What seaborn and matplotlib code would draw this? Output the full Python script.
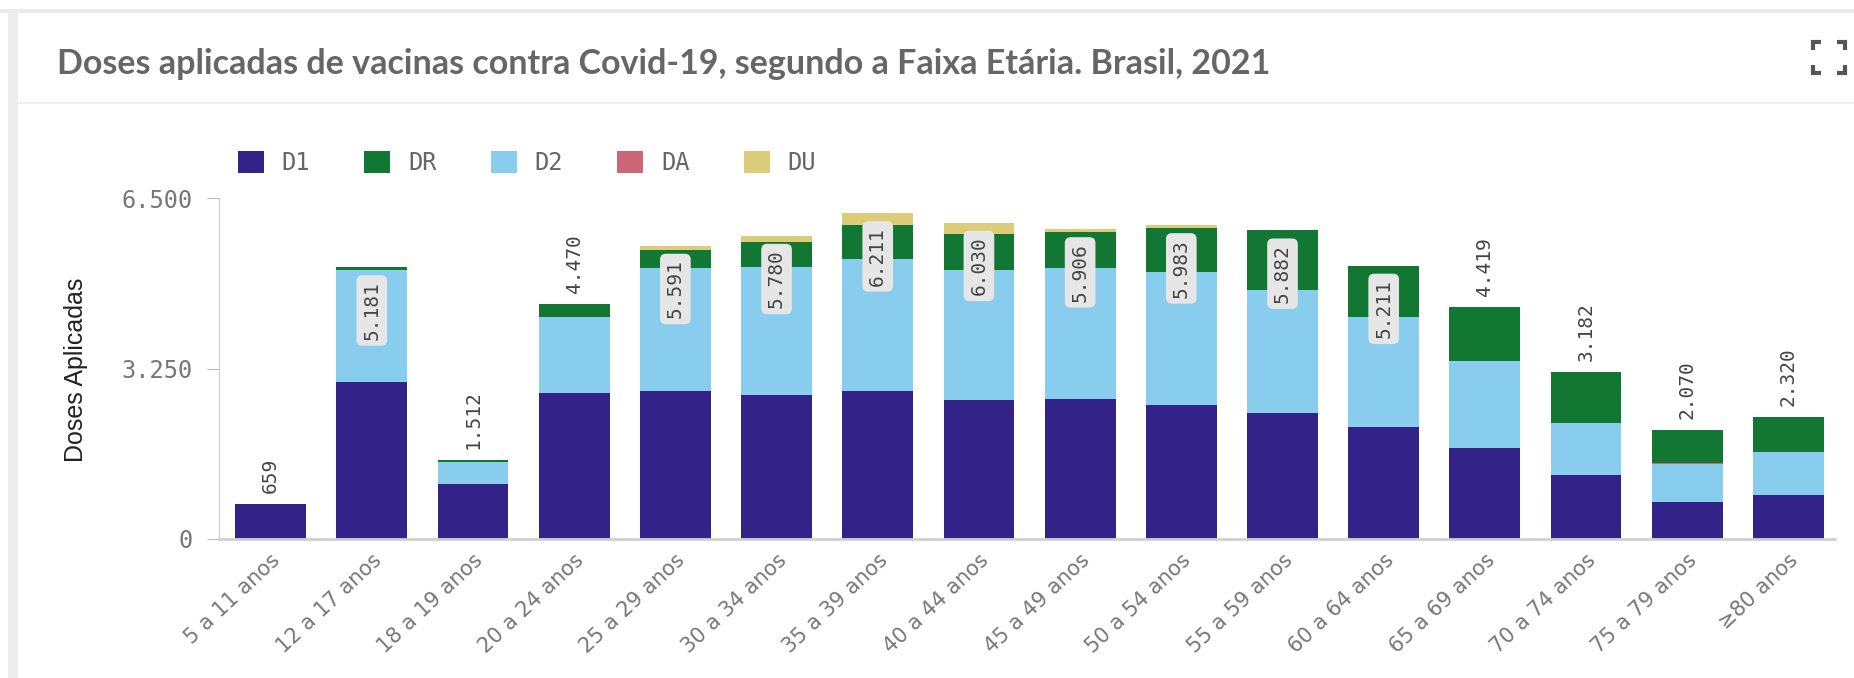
import numpy as np
import pandas as pd
import seaborn as sns
import matplotlib.pyplot as plt
from matplotlib.patches import Rectangle, Patch
from matplotlib.lines import Line2D

faixas = ["5 a 11 anos", "12 a 17 anos", "18 a 19 anos", "20 a 24 anos",
          "25 a 29 anos", "30 a 34 anos", "35 a 39 anos", "40 a 44 anos",
          "45 a 49 anos", "50 a 54 anos", "55 a 59 anos", "60 a 64 anos",
          "65 a 69 anos", "70 a 74 anos", "75 a 79 anos", "≥80 anos"]

# doses aplicadas (mil)
d1 = [659, 2993, 1048, 2776, 2821, 2751, 2821, 2649, 2674, 2560, 2401, 2135, 1740, 1212, 711, 839]
d2 = [0, 2140, 420, 1456, 2345, 2434, 2516, 2471, 2492, 2522, 2351, 2097, 1653, 999, 724, 819]
da = [0, 0, 0, 0, 0, 0, 0, 0, 0, 0, 0, 0, 5, 8, 6, 8]
dr = [0, 48, 44, 238, 349, 469, 654, 686, 678, 846, 1130, 979, 1021, 963, 629, 654]
du = [0, 0, 0, 0, 76, 126, 220, 224, 62, 55, 0, 0, 0, 0, 0, 0]

yticks = [0, 3250, 6500]
ytick_labels = ["0", "3.250", "6.500"]

cores = {"D1": "#332288", "DR": "#117733", "D2": "#88CCEE", "DA": "#CC6677", "DU": "#DDCC77"}

df = pd.DataFrame({"faixa": faixas, "D1": d1, "D2": d2, "DA": da, "DR": dr, "DU": du})
stack_order = ["D1", "D2", "DA", "DR", "DU"]
cum = df[stack_order].cumsum(axis=1)
df["total"] = cum["DU"]

W, H = 1854, 678
fig = plt.figure(figsize=(W / 100, H / 100), dpi=100)
fig.patch.set_facecolor("white")

# card frame
fig.patches.append(Rectangle((0, 1 - 13 / H), 1, 4 / H, transform=fig.transFigure,
                             facecolor="#ebebeb", edgecolor="none"))
fig.patches.append(Rectangle((8 / W, 0), 10 / W, 1 - 9 / H, transform=fig.transFigure,
                             facecolor="#ececec", edgecolor="none"))
fig.add_artist(Line2D([18 / W, 1], [1 - 103 / H] * 2, color="#f0f0f0", lw=1.5))

# expand icon
x0, x1, y0, y1, a = 1813, 1845, 42, 73, 8
for cx, cy, sx, sy in [(x0, y0, 1, 1), (x1, y0, -1, 1), (x0, y1, 1, -1), (x1, y1, -1, -1)]:
    xs = [cx + sx * a, cx, cx]
    ys = [cy, cy, cy + sy * a]
    fig.add_artist(Line2D([v / W for v in xs], [1 - v / H for v in ys],
                          color="#555555", lw=3, solid_capstyle="butt", solid_joinstyle="miter"))

fig.text(57 / W, 1 - 74 / H, "Doses aplicadas de vacinas contra Covid-19, segundo a Faixa Etária. Brasil, 2021",
         fontsize=24.5, fontweight="bold", color="#666666", family=["Lato", "DejaVu Sans"], va="baseline")

ax = fig.add_axes([219 / W, 139 / H, (1835 - 219) / W, (539 - 198) / H])

for layer in reversed(stack_order):
    sns.barplot(x=df["faixa"], y=cum[layer], color=cores[layer], width=0.7,
                saturation=1, linewidth=0, ax=ax)

ax.set_ylim(0, 6500)
ax.set_xlim(-0.51, 15.46)
ax.set_yticks(yticks)
ax.set_yticklabels(ytick_labels)
ax.set_xlabel("")
ax.set_ylabel("")
for s in ["top", "right"]:
    ax.spines[s].set_visible(False)
ax.spines["left"].set_color("#cccccc")
ax.spines["bottom"].set_color("#d0d0d0")
ax.spines["bottom"].set_linewidth(2)
ax.tick_params(axis="y", length=9, color="#bbbbbb", pad=10, labelsize=17, labelcolor="#777777")
ax.tick_params(axis="x", length=0, pad=8, labelsize=15, labelcolor="#777777")
for t in ax.get_yticklabels():
    t.set_family("DejaVu Sans Mono")
for t in ax.get_xticklabels():
    t.set_family("DejaVu Sans")
    t.set_rotation(43)
    t.set_ha("right")
    t.set_rotation_mode("anchor")

for i, tot in enumerate(df["total"]):
    txt = f"{tot:,}".replace(",", ".")
    if tot > 5000:
        ax.annotate(txt, (i, tot), xytext=(0, -10), textcoords="offset points",
                    rotation=90, ha="center", va="top", fontsize=14, color="#444444",
                    family="DejaVu Sans Mono",
                    bbox=dict(boxstyle="round,pad=0.3", fc="#e6e6e6", ec="none"))
    else:
        ax.annotate(txt, (i, tot), xytext=(0, 8), textcoords="offset points",
                    rotation=90, ha="center", va="bottom", fontsize=14, color="#444444",
                    family="DejaVu Sans Mono")

fig.text(76 / W, 1 - 370 / H, "Doses Aplicadas", rotation=90, ha="center", va="center",
         fontsize=18, color="#222222", family="Liberation Sans")

legend_order = ["D1", "DR", "D2", "DA", "DU"]
handles = [Patch(facecolor=cores[k], edgecolor="none") for k in legend_order]
fig.legend(handles, legend_order, loc="center left", bbox_to_anchor=(238 / W, 1 - 163 / H),
           ncol=5, frameon=False, borderpad=0, borderaxespad=0, handlelength=1.1,
           handleheight=1.1, handletextpad=0.75, columnspacing=2.3,
           prop={"family": "DejaVu Sans Mono", "size": 17}, labelcolor="#666666")

fig.savefig("out.png", dpi=100, facecolor="white")
